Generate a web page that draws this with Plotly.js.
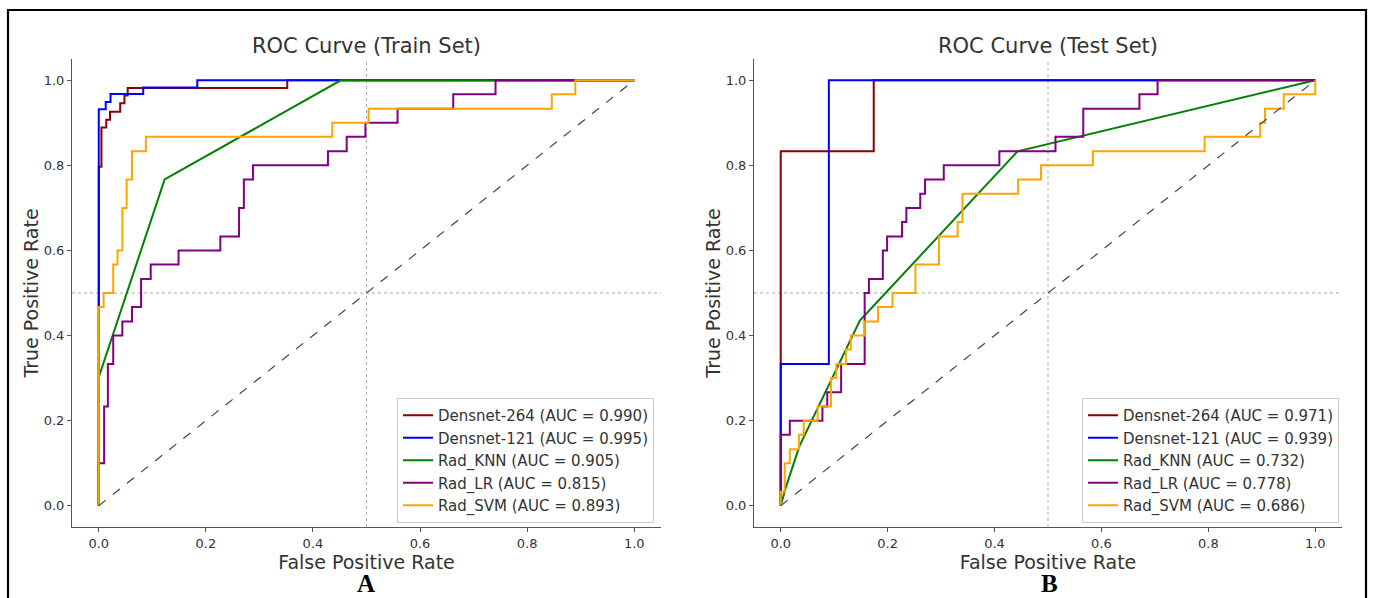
<!DOCTYPE html>
<html>
<head>
<meta charset="utf-8">
<script src="https://cdn.plot.ly/plotly-3.0.1.min.js"></script>
<style>
  html, body { margin: 0; padding: 0; background: #fff; }
  #chart { width: 1373px; height: 598px; }
</style>
</head>
<body>
<div id="chart"></div>
<script>
// ---------------- DATA ----------------
const modelNames = ["Densnet-264", "Densnet-121", "Rad_KNN", "Rad_LR", "Rad_SVM"];
const modelColors = ["#8B0000", "#0000FF", "#008000", "#800080", "#FFA500"];
const trainAUC = ["0.990", "0.995", "0.905", "0.815", "0.893"];
const testAUC = ["0.971", "0.939", "0.732", "0.778", "0.686"];
const panelTitles = ["ROC Curve (Train Set)", "ROC Curve (Test Set)"];
const panelLetters = ["A", "B"];
const tickValues = [0, 0.2, 0.4, 0.6, 0.8, 1.0];
const chanceX = [0, 1];
const chanceY = [0, 1];

// Train set ROC vertices
const trainDn264Fpr = [0, 0, 0.005, 0.005, 0.014, 0.014, 0.021, 0.021, 0.040, 0.040, 0.048, 0.048, 0.054, 0.054, 0.352, 0.352, 1];
const trainDn264Tpr = [0, 0.797, 0.797, 0.889, 0.889, 0.907, 0.907, 0.926, 0.926, 0.946, 0.946, 0.964, 0.964, 0.982, 0.982, 1, 1];
const trainDn121Fpr = [0, 0, 0.013, 0.013, 0.022, 0.022, 0.083, 0.083, 0.184, 0.184, 1];
const trainDn121Tpr = [0, 0.932, 0.932, 0.949, 0.949, 0.968, 0.968, 0.983, 0.983, 1, 1];
const trainKnnFpr = [0, 0, 0.123, 0.452, 1];
const trainKnnTpr = [0, 0.302, 0.767, 1, 1];
const trainLrFpr = [0, 0, 0.010, 0.010, 0.017, 0.017, 0.027, 0.027, 0.044, 0.044, 0.062, 0.062, 0.079, 0.079, 0.097, 0.097, 0.149, 0.149, 0.227, 0.227, 0.262, 0.262, 0.271, 0.271, 0.288, 0.288, 0.428, 0.428, 0.463, 0.463, 0.498, 0.498, 0.558, 0.558, 0.662, 0.662, 0.741, 0.741, 1];
const trainLrTpr = [0, 0.1, 0.1, 0.233, 0.233, 0.333, 0.333, 0.4, 0.4, 0.433, 0.433, 0.467, 0.467, 0.533, 0.533, 0.567, 0.567, 0.6, 0.6, 0.633, 0.633, 0.7, 0.7, 0.767, 0.767, 0.8, 0.8, 0.833, 0.833, 0.867, 0.867, 0.9, 0.9, 0.933, 0.933, 0.967, 0.967, 1, 1];
const trainSvmFpr = [0, 0, 0.009, 0.009, 0.027, 0.027, 0.035, 0.035, 0.044, 0.044, 0.052, 0.052, 0.062, 0.062, 0.088, 0.088, 0.436, 0.436, 0.504, 0.504, 0.846, 0.846, 0.890, 0.890, 1];
const trainSvmTpr = [0, 0.467, 0.467, 0.5, 0.5, 0.567, 0.567, 0.6, 0.6, 0.7, 0.7, 0.767, 0.767, 0.833, 0.833, 0.867, 0.867, 0.9, 0.9, 0.933, 0.933, 0.967, 0.967, 1, 1];

// Test set ROC vertices
const testDn264Fpr = [0, 0, 0.174, 0.174, 1];
const testDn264Tpr = [0, 0.833, 0.833, 1, 1];
const testDn121Fpr = [0, 0, 0.090, 0.090, 1];
const testDn121Tpr = [0, 0.333, 0.333, 1, 1];
const testKnnFpr = [0, 0.010, 0.035, 0.148, 0.443, 1];
const testKnnTpr = [0, 0.045, 0.140, 0.435, 0.833, 1];
const testLrFpr = [0, 0, 0.017, 0.017, 0.078, 0.078, 0.087, 0.087, 0.113, 0.113, 0.157, 0.157, 0.165, 0.165, 0.191, 0.191, 0.199, 0.199, 0.227, 0.227, 0.235, 0.235, 0.261, 0.261, 0.270, 0.270, 0.305, 0.305, 0.409, 0.409, 0.514, 0.514, 0.566, 0.566, 0.671, 0.671, 0.705, 0.705, 1];
const testLrTpr = [0, 0.167, 0.167, 0.2, 0.2, 0.233, 0.233, 0.267, 0.267, 0.333, 0.333, 0.5, 0.5, 0.533, 0.533, 0.6, 0.6, 0.633, 0.633, 0.667, 0.667, 0.7, 0.7, 0.733, 0.733, 0.767, 0.767, 0.8, 0.8, 0.833, 0.833, 0.867, 0.867, 0.933, 0.933, 0.967, 0.967, 1, 1];
const testSvmFpr = [0, 0, 0.0075, 0.0075, 0.017, 0.017, 0.034, 0.034, 0.043, 0.043, 0.069, 0.069, 0.094, 0.094, 0.104, 0.104, 0.122, 0.122, 0.131, 0.131, 0.157, 0.157, 0.182, 0.182, 0.209, 0.209, 0.252, 0.252, 0.296, 0.296, 0.331, 0.331, 0.340, 0.340, 0.444, 0.444, 0.487, 0.487, 0.584, 0.584, 0.793, 0.793, 0.897, 0.897, 0.906, 0.906, 0.941, 0.941, 1, 1];
const testSvmTpr = [0, 0.033, 0.033, 0.1, 0.1, 0.133, 0.133, 0.167, 0.167, 0.2, 0.2, 0.233, 0.233, 0.3, 0.3, 0.333, 0.333, 0.367, 0.367, 0.4, 0.4, 0.433, 0.433, 0.467, 0.467, 0.5, 0.5, 0.567, 0.567, 0.633, 0.633, 0.667, 0.667, 0.733, 0.733, 0.767, 0.767, 0.8, 0.8, 0.833, 0.833, 0.867, 0.867, 0.9, 0.9, 0.933, 0.933, 0.967, 0.967, 1];

const trainFpr = [trainDn264Fpr, trainDn121Fpr, trainKnnFpr, trainLrFpr, trainSvmFpr];
const trainTpr = [trainDn264Tpr, trainDn121Tpr, trainKnnTpr, trainLrTpr, trainSvmTpr];
const testFpr = [testDn264Fpr, testDn121Fpr, testKnnFpr, testLrFpr, testSvmFpr];
const testTpr = [testDn264Tpr, testDn121Tpr, testKnnTpr, testLrTpr, testSvmTpr];

// ---------------- BUILD ----------------
const W = 1373, H = 598;
const FONT = "DejaVu Sans, Verdana, sans-serif";
const TXT = "#333333";

const traces = [];
function addPanel(fprs, tprs, aucs, xa, ya, legendId) {
  for (let i = 0; i < modelNames.length; i++) {
    traces.push({
      type: "scatter", mode: "lines",
      x: fprs[i], y: tprs[i],
      xaxis: xa, yaxis: ya,
      name: modelNames[i] + " (AUC = " + aucs[i] + ")",
      line: { color: modelColors[i], width: 2 },
      legend: legendId,
      hoverinfo: "skip"
    });
  }
  traces.push({
    type: "scatter", mode: "lines",
    x: chanceX, y: chanceY, xaxis: xa, yaxis: ya,
    line: { color: "#444444", width: 1.2, dash: "dash" },
    showlegend: false, hoverinfo: "skip"
  });
}
addPanel(trainFpr, trainTpr, trainAUC, "x", "y", "legend");
addPanel(testFpr, testTpr, testAUC, "x2", "y2", "legend2");

const px = v => v / W;
const py = v => 1 - v / H;

function xAxis(domain, anchor) {
  return {
    domain: domain, anchor: anchor, range: [-0.05, 1.05],
    tickvals: tickValues, tickformat: ".1f",
    ticks: "outside", ticklen: 4, tickwidth: 1, tickcolor: "#555",
    showline: true, linecolor: "#555", linewidth: 1, mirror: false,
    showgrid: false, zeroline: false,
    tickfont: { family: FONT, size: 13, color: TXT },
    title: { text: "False Positive Rate", font: { family: FONT, size: 19, color: TXT }, standoff: 0 }
  };
}
function yAxis(domain, anchor) {
  return {
    domain: domain, anchor: anchor, range: [-0.05, 1.05],
    tickvals: tickValues, tickformat: ".1f",
    ticks: "outside", ticklen: 4, tickwidth: 1, tickcolor: "#555",
    showline: true, linecolor: "#555", linewidth: 1, mirror: false,
    showgrid: false, zeroline: false,
    tickfont: { family: FONT, size: 13, color: TXT },
    title: { text: "True Positive Rate", font: { family: FONT, size: 19, color: TXT }, standoff: 0 }
  };
}
const yDom = [1 - 527 / H, 1 - 59 / H];
const x1Dom = [px(72), px(661)];
const x2Dom = [px(754), px(1342)];

function legendCfg(rightPx) {
  return {
    x: px(rightPx), xanchor: "right", y: 1 - 523 / H, yanchor: "bottom",
    bgcolor: "rgba(255,255,255,0.85)", bordercolor: "#cccccc", borderwidth: 1,
    font: { family: FONT, size: 15, color: TXT },
    itemwidth: 30
  };
}

function refLines(xr, yr) {
  return [
    { type: "line", xref: xr, yref: yr + " domain", x0: 0.5, x1: 0.5, y0: 0, y1: 1,
      line: { color: "#aaaaaa", width: 1, dash: "dot" }, layer: "below" },
    { type: "line", xref: xr + " domain", yref: yr, x0: 0, x1: 1, y0: 0.5, y1: 0.5,
      line: { color: "#aaaaaa", width: 1, dash: "dot" }, layer: "below" }
  ];
}

const letterFont = { family: "Liberation Serif, Times New Roman, serif", size: 25, color: "#000" };

const layout = {
  width: W, height: H,
  margin: { l: 0, r: 0, t: 0, b: 0 },
  paper_bgcolor: "#ffffff", plot_bgcolor: "#ffffff",
  font: { family: FONT, color: TXT },
  showlegend: true,
  xaxis: xAxis(x1Dom, "y"),
  yaxis: yAxis(yDom, "x"),
  xaxis2: xAxis(x2Dom, "y2"),
  yaxis2: yAxis(yDom, "x2"),
  legend: legendCfg(654),
  legend2: legendCfg(1339),
  shapes: [
    ...refLines("x", "y"),
    ...refLines("x2", "y2"),
    { type: "rect", xref: "paper", yref: "paper",
      x0: px(8), x1: px(1366), y0: -0.1, y1: py(10),
      line: { color: "#000000", width: 2.2 }, fillcolor: "rgba(0,0,0,0)" }
  ],
  annotations: [
    { text: panelTitles[0], xref: "paper", yref: "paper", x: (x1Dom[0] + x1Dom[1]) / 2, y: py(46),
      xanchor: "center", yanchor: "middle", showarrow: false, font: { family: FONT, size: 21, color: TXT } },
    { text: panelTitles[1], xref: "paper", yref: "paper", x: (x2Dom[0] + x2Dom[1]) / 2, y: py(46),
      xanchor: "center", yanchor: "middle", showarrow: false, font: { family: FONT, size: 21, color: TXT } },
    { text: "<b>" + panelLetters[0] + "</b>", xref: "paper", yref: "paper", x: px(366), y: 0,
      xanchor: "center", yanchor: "bottom", borderpad: 0, showarrow: false, font: letterFont },
    { text: "<b>" + panelLetters[1] + "</b>", xref: "paper", yref: "paper", x: px(1049), y: 0,
      xanchor: "center", yanchor: "bottom", borderpad: 0, showarrow: false, font: letterFont }
  ]
};

Plotly.newPlot("chart", traces, layout, { staticPlot: true, displayModeBar: false });
</script>
</body>
</html>
